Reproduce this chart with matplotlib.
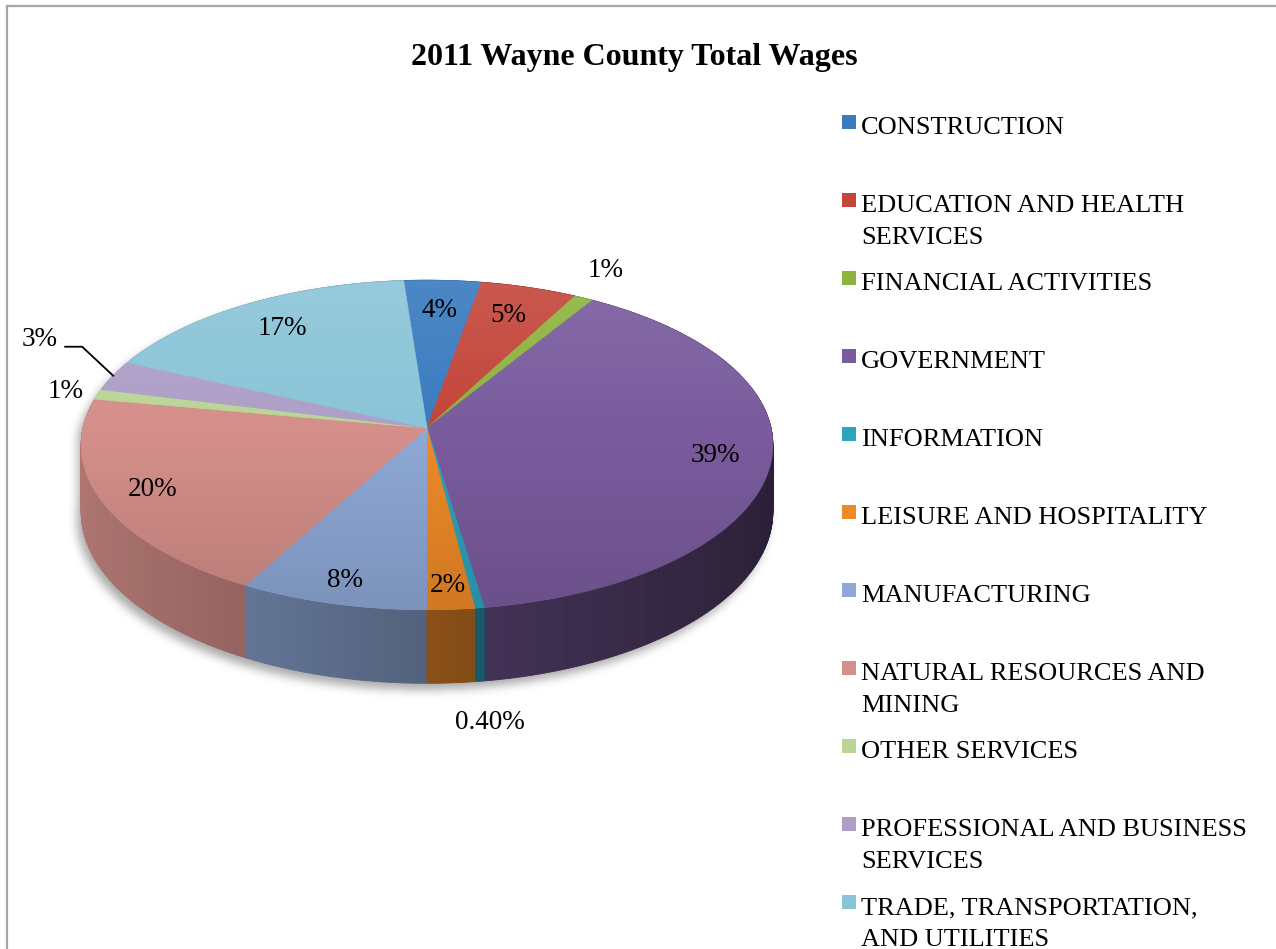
import textwrap
import numpy as np
import matplotlib
matplotlib.use("Agg")
import matplotlib.pyplot as plt
from matplotlib.patches import Polygon, Rectangle
from matplotlib.collections import PolyCollection
from matplotlib.colors import to_rgb
from matplotlib.path import Path
from matplotlib.lines import Line2D

title = "2011 Wayne County Total Wages"
categories = [
    "CONSTRUCTION",
    "EDUCATION AND HEALTH SERVICES",
    "FINANCIAL ACTIVITIES",
    "GOVERNMENT",
    "INFORMATION",
    "LEISURE AND HOSPITALITY",
    "MANUFACTURING",
    "NATURAL RESOURCES AND MINING",
    "OTHER SERVICES",
    "PROFESSIONAL AND BUSINESS SERVICES",
    "TRADE, TRANSPORTATION, AND UTILITIES",
]
shares = [4, 5, 1, 39, 0.4, 2, 8, 20, 1, 3, 17]
colors = ["#3A7BBF", "#C4463B", "#8DB43E", "#7A5C9E", "#2EA3BE", "#EE8A28",
          "#8EA9D6", "#D58F8A", "#BBD597", "#AE9FC8", "#8BC4D8"]

FONT = "Liberation Serif"
W, H = 1276, 949
fig = plt.figure(figsize=(W / 100, H / 100), dpi=100)
ax = fig.add_axes([0, 0, 1, 1])

# Tilted disc seen in perspective (pixel units)
CX, CY = 427, 428
SX, SY = 344, 163
K = 0.103
DEPTH = 66
START = -4.3  # first slice edge, degrees clockwise from 12 o'clock


def project(theta_deg, r=1.0, lift=0.0):
    th = np.radians(theta_deg)
    u = r * np.sin(th)
    v = r * np.cos(th)
    w = 1 + K * v
    return CX + SX * u / w, CY + (-SY * v + lift) / w


def label_text(v):
    return f"{v:.2f}%" if v < 1 else f"{v:.0f}%"


total = float(np.sum(shares))
edges = START + 360.0 * np.concatenate([[0], np.cumsum(shares)]) / total
mids = 0.5 * (edges[:-1] + edges[1:])

# --- soft drop shadow under the disc ---
gx0, gx1, gy0, gy1 = 40, 820, 240, 740
gx, gy = np.meshgrid(np.arange(gx0, gx1), np.arange(gy0, gy1))
back = np.linspace(-90, 90, 181)
front = np.linspace(90, 270, 181)
bx, by = project(back)
fx, fy = project(front, lift=DEPTH)
sil = np.column_stack([np.concatenate([bx, fx]), np.concatenate([by, fy])])
sil = sil + np.array([-5.0, 6.0])
mask = Path(sil).contains_points(np.column_stack([gx.ravel(), gy.ravel()]))
mask = mask.reshape(gx.shape).astype(float)


def box_blur(a, r):
    for axis in (0, 1):
        pad = [(0, 0), (0, 0)]
        pad[axis] = (r + 1, r)
        p = np.pad(a, pad, mode="edge")
        c = np.cumsum(p, axis=axis)
        if axis == 0:
            a = (c[2 * r + 1:, :] - c[:-2 * r - 1, :]) / (2 * r + 1)
        else:
            a = (c[:, 2 * r + 1:] - c[:, :-2 * r - 1]) / (2 * r + 1)
    return a


for _ in range(3):
    mask = box_blur(mask, 4)
shadow = np.zeros(mask.shape + (4,))
shadow[..., :3] = 0.45
shadow[..., 3] = 0.6 * mask
ax.imshow(shadow, extent=(gx0, gx1, gy1, gy0), origin="upper",
          aspect="auto", zorder=0, interpolation="bilinear")

# --- side wall of the disc ---
strips, strip_cols, depth_key = [], [], []
for i, c in enumerate(colors):
    base = np.array(to_rgb(c))
    n = max(2, int(np.ceil((edges[i + 1] - edges[i]) / 0.5)))
    ts = np.linspace(edges[i], edges[i + 1], n + 1)
    for a0, a1 in zip(ts[:-1], ts[1:]):
        x0, y0 = project(a0)
        x1, y1 = project(a1)
        x2, y2 = project(a1, lift=DEPTH)
        x3, y3 = project(a0, lift=DEPTH)
        strips.append([(x0, y0), (x1, y1), (x2, y2), (x3, y3)])
        am = np.radians(0.5 * (a0 + a1))
        f = 0.58 - 0.24 * np.sin(am)
        strip_cols.append(np.clip(base * f, 0, 1))
        depth_key.append(np.cos(am))
order = np.argsort(depth_key)[::-1]
walls = PolyCollection([strips[j] for j in order],
                       facecolors=[strip_cols[j] for j in order],
                       edgecolors=[strip_cols[j] for j in order],
                       linewidths=0.6, zorder=1)
ax.add_collection(walls)

# --- top face slices ---
for i, c in enumerate(colors):
    n = max(2, int(np.ceil((edges[i + 1] - edges[i]) / 0.5)))
    ts = np.linspace(edges[i], edges[i + 1], n + 1)
    xs, ys = project(ts)
    pts = np.column_stack([np.concatenate([[CX], xs]), np.concatenate([[CY], ys])])
    ax.add_patch(Polygon(pts, closed=True, facecolor=c, edgecolor=c,
                         linewidth=0.5, zorder=2))

# light-to-dark sheen across the top face
ring_t = np.linspace(0, 360, 721)
rx, ry = project(ring_t)
top_path = Polygon(np.column_stack([rx, ry]), closed=True, transform=ax.transData)
ytop, ybot = ry.min(), ry.max()
grad = np.linspace(0, 1, 200)[:, None]
sheen = np.zeros((200, 2, 4))
sheen[..., :3] = np.where(grad < 0.45, 1.0, 0.0)[..., None]
sheen[..., 3] = np.where(grad < 0.45, 0.10 * (0.45 - grad) / 0.45,
                         0.13 * (grad - 0.45) / 0.55)
im = ax.imshow(sheen, extent=(rx.min(), rx.max(), ybot, ytop), origin="upper",
               aspect="auto", zorder=3, interpolation="bilinear")
im.set_clip_path(top_path)

# --- value labels ---
LBL = dict(fontsize=19.5, family=FONT, color="black", zorder=6)
outside = {2, 4, 8, 9}
for i, v in enumerate(shares):
    if i in outside:
        continue
    rr = 0.83 - 0.05 * np.cos(np.radians(mids[i]))
    x, y = project(mids[i], r=rr)
    ax.text(x, y, label_text(v), ha="center", va="center", **LBL)

# financial activities: just beyond the rim
x, y = project(mids[2], r=1.2)
ax.text(x - 6, y - 4, label_text(shares[2]), ha="center", va="center", **LBL)
# information: below the wall
x, y = project(mids[4], lift=DEPTH)
ax.text(x + 10, y + 41, label_text(shares[4]), ha="center", va="center", **LBL)
# other services: left of the rim
x, y = project(mids[8])
ax.text(x - 14, y - 3, label_text(shares[8]), ha="right", va="center", **LBL)
# professional services: with leader line
x, y = project(mids[9])
ax.add_line(Line2D([x, x - 31, x - 48], [y, y - 29, y - 29], color="black",
                   linewidth=1.3, zorder=6))
ax.text(x - 56, y - 36, label_text(shares[9]), ha="right", va="center", **LBL)

# --- title ---
ax.text(634, 57, title, ha="center", va="center", fontsize=23,
        fontweight="bold", family=FONT, zorder=6)

# --- legend ---
for i, (name, c) in enumerate(zip(categories, colors)):
    base_y = 134 + 78 * i
    ax.add_patch(Rectangle((842, base_y - 19), 14, 13.5, facecolor=c,
                           edgecolor="none", zorder=6))
    for j, line in enumerate(textwrap.wrap(name, 25)):
        ax.text(861, base_y + 32 * j, line, ha="left", va="baseline",
                fontsize=19, family=FONT, zorder=6)

# --- chart frame ---
ax.add_line(Line2D([7, 7], [6, H], color="#A6A6A6", linewidth=1.6, zorder=7))
ax.add_line(Line2D([7, W], [6, 6], color="#A6A6A6", linewidth=1.6, zorder=7))

ax.set_xlim(0, W)
ax.set_ylim(H, 0)
ax.axis("off")
fig.savefig("out.png", dpi=100, facecolor="white")
